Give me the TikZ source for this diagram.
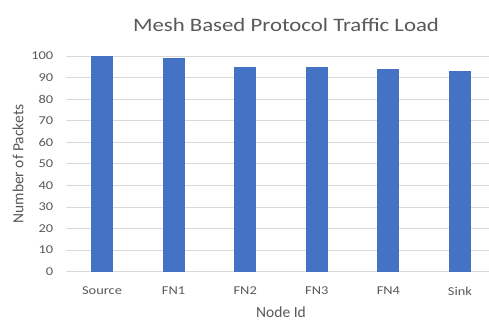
\documentclass[tikz,border=0pt]{standalone}
\usepackage{fontspec}
\setmainfont{Carlito}
\begin{document}
\begin{tikzpicture}[x=1pt,y=-1pt,
  txt/.style={text=textgray,inner sep=0pt},
  tick/.style={txt,xscale=1.2,font=\fontsize{12}{12}\selectfont},
  axtitle/.style={txt,font=\fontsize{15.5}{15.5}\selectfont},
  grid/.style={draw=gridgray,line width=0.9pt},
  bar/.style={fill=barblue,draw=none}]
\definecolor{textgray}{HTML}{595959}
\definecolor{gridgray}{HTML}{D9D9D9}
\definecolor{barblue}{HTML}{4472C4}
\useasboundingbox[fill=white] (0,0) rectangle (489,320);
% value axis: 0..100 mapped to y = 271.7 .. 56
\pgfmathsetmacro{\ybase}{271.7}
\pgfmathsetmacro{\yunit}{2.157}
% horizontal grid lines with their labels
\foreach \v in {0,10,...,100}{
  \draw[grid] (66,\ybase-\yunit*\v) -- (489,\ybase-\yunit*\v);
  \node[tick,anchor=east] (t\v) at (53.5,\ybase-\yunit*\v) {\v};
}
% bars with category labels
\foreach \i/\name/\val in {0/Source/100,1/FN1/99,2/FN2/95,3/FN3/95,4/FN4/94,5/Sink/93}{
  \fill[bar] (102+71.6*\i-11,\ybase) rectangle (102+71.6*\i+11,\ybase-\yunit*\val);
  \node[tick] (c\i) at (102+71.6*\i,291) {\name};
}
% titles
\node[txt,xscale=1.2,font=\fontsize{19}{19}\selectfont] (title) at (286,25) {Mesh Based Protocol Traffic Load};
\node[axtitle] (xtitle) at (281,312) {Node Id};
\node[axtitle,rotate=90] (ytitle) at (18,164) {Number of Packets};
\end{tikzpicture}
\end{document}
